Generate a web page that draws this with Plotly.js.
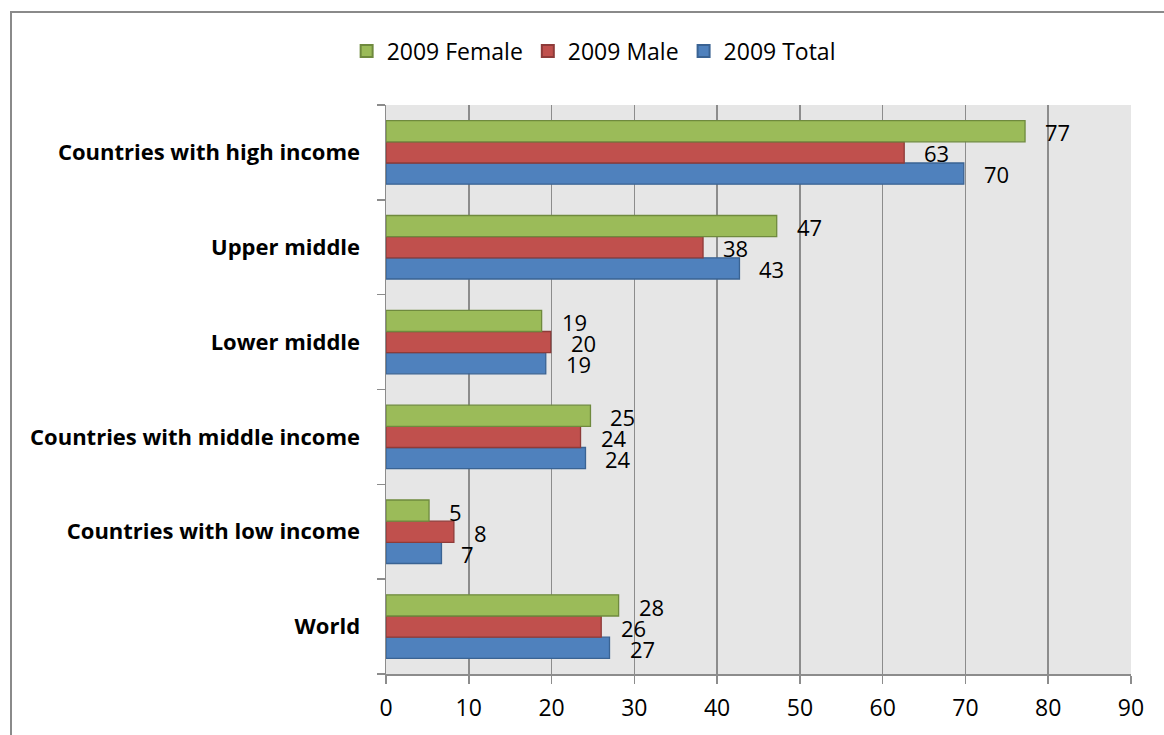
<!DOCTYPE html>
<html>
<head>
<meta charset="utf-8">
<script src="https://cdn.plot.ly/plotly-3.0.1.min.js"></script>
<style>
  html, body { margin: 0; padding: 0; background: #fff; overflow: hidden; }
  #chart { width: 1164px; height: 735px; position: absolute; left: 0; top: 0; }
  #frame { position: absolute; left: 10px; top: 11px; width: 1200px; height: 800px;
           border: 2px solid #8a8a8a; pointer-events: none; box-sizing: border-box; }
</style>
</head>
<body>
<div id="chart"></div>
<div id="frame"></div>
<script>
// Categories (bottom to top, as Plotly places them)
const categories = ["World", "Countries with low income", "Countries with middle income",
                    "Lower middle", "Upper middle", "Countries with high income"];
// Series values
const female = [28.1, 5.2, 24.7, 18.8, 47.2, 77.2];
const male   = [26.0, 8.2, 23.5, 19.9, 38.3, 62.6];
const total  = [27.0, 6.7, 24.1, 19.3, 42.7, 69.8];
// Labels printed next to bars
const femaleLabels = ["28", "5", "25", "19", "47", "77"];
const maleLabels   = ["26", "8", "24", "20", "38", "63"];
const totalLabels  = ["27", "7", "24", "19", "43", "70"];
const xTicks = [0, 10, 20, 30, 40, 50, 60, 70, 80, 90];

const FONT = "Open Sans, Lato, sans-serif";

function barTrace(name, values, fill, line) {
  return {
    type: "bar", orientation: "h", name: name,
    x: values, y: categories,
    marker: { color: fill, line: { color: line, width: 1.3 } },
    hoverinfo: "x+name"
  };
}

const traces = [
  barTrace("2009 Total", total, "#4F81BD", "#3A6393"),
  barTrace("2009 Male", male, "#C0504D", "#8E3B39"),
  barTrace("2009 Female", female, "#9BBB59", "#6F8A3E")
];

const annotations = [];
function addLabels(values, labels, shift) {
  values.forEach((v, i) => {
    annotations.push({
      x: v, y: categories[i], xref: "x", yref: "y",
      text: labels[i], showarrow: false,
      xanchor: "left", yanchor: "middle",
      xshift: 18, yshift: shift,
      font: { family: FONT, size: 22, color: "#000" }
    });
  });
}
addLabels(female, femaleLabels, 20);
addLabels(male, maleLabels, -1);
addLabels(total, totalLabels, -22);

const layout = {
  width: 1164, height: 735,
  margin: { l: 386, r: 33, t: 105, b: 61, pad: 0 },
  paper_bgcolor: "#ffffff",
  plot_bgcolor: "#e6e6e6",
  barmode: "group",
  bargap: 0.33,
  bargroupgap: 0,
  font: { family: FONT, size: 20, color: "#000" },
  showlegend: true,
  legend: {
    orientation: "h", traceorder: "reversed",
    x: 0.51, xref: "container", xanchor: "center",
    y: 1 - 51 / 735, yref: "container", yanchor: "middle",
    font: { family: FONT, size: 23, color: "#000" },
    itemwidth: 30, itemsizing: "constant", tracegroupgap: 0,
    bgcolor: "rgba(0,0,0,0)"
  },
  xaxis: {
    range: [0, 90], tickvals: xTicks, ticktext: xTicks.map(String),
    showgrid: true, gridcolor: "#8c8c8c", gridwidth: 1.5,
    zeroline: false, showline: true, linecolor: "#8c8c8c", linewidth: 1.5,
    ticks: "outside", ticklen: 8, tickwidth: 1.5, tickcolor: "#8c8c8c",
    ticklabelstandoff: 5,
    tickfont: { family: FONT, size: 23, color: "#000" },
    fixedrange: true
  },
  yaxis: {
    type: "category", categoryorder: "array", categoryarray: categories,
    range: [-0.5, 5.5],
    showgrid: false, zeroline: false,
    showline: true, linecolor: "#8c8c8c", linewidth: 1.5,
    ticks: "outside", ticklen: 8, tickwidth: 1.5, tickcolor: "#8c8c8c",
    tickson: "boundaries", ticklabelstandoff: 20,
    tickfont: { family: FONT, size: 22, color: "#000", weight: "bold" },
    fixedrange: true
  },
  annotations: annotations
};

Plotly.newPlot("chart", traces, layout, { displayModeBar: false, staticPlot: true });
</script>
</body>
</html>
